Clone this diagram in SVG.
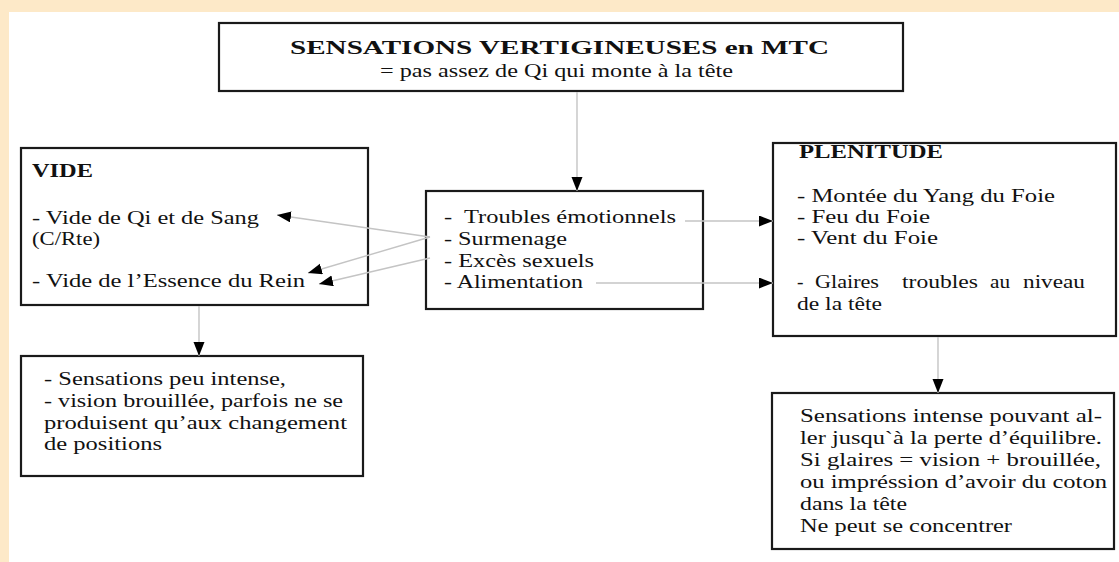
<svg xmlns="http://www.w3.org/2000/svg" width="1119" height="562" viewBox="0 0 1119 562">
  <style>
    .box { fill: #ffffff; stroke: #1a1a1a; stroke-width: 2.2; }
    .t { font-family: "Liberation Serif", "Times New Roman", serif; font-size: 19.5px; fill: #111111; }
    .b { font-weight: bold; }
    .conn { stroke: #c4c4c4; stroke-width: 1.4; fill: none; marker-end: url(#arr); }
  </style>
  <defs>
    <marker id="arr" markerUnits="userSpaceOnUse" markerWidth="15" markerHeight="12" refX="14" refY="5.5" orient="auto">
      <path d="M0,0 L14,5.5 L0,11 Z" fill="#000000"/>
    </marker>
  </defs>
  <rect x="0" y="0" width="1119" height="562" fill="#fde9c8"/>
  <rect x="9" y="12" width="1110" height="550" fill="#ffffff"/>

  <g id="title">
    <rect class="box" x="219" y="23" width="684" height="68"/>
    <text class="t b" x="290" y="54" font-size="25" textLength="539" lengthAdjust="spacingAndGlyphs">SENSATIONS VERTIGINEUSES en MTC</text>
    <text class="t" x="380" y="77" textLength="353" lengthAdjust="spacingAndGlyphs">= pas assez de Qi qui monte à la tête</text>
  </g>

  <g id="vide">
    <rect class="box" x="21" y="148" width="347" height="157"/>
    <text class="t b" x="32" y="177" textLength="61" lengthAdjust="spacingAndGlyphs">VIDE</text>
    <text class="t" x="32" y="224" textLength="227" lengthAdjust="spacingAndGlyphs">- Vide de Qi et de Sang</text>
    <text class="t" x="32" y="245" textLength="68" lengthAdjust="spacingAndGlyphs">(C/Rte)</text>
    <text class="t" x="32" y="287" textLength="273" lengthAdjust="spacingAndGlyphs">- Vide de l’Essence du Rein</text>
  </g>

  <g id="causes">
    <rect class="box" x="426" y="191" width="277" height="118"/>
    <text class="t" x="444" y="223" xml:space="preserve" textLength="232" lengthAdjust="spacingAndGlyphs">-  Troubles émotionnels</text>
    <text class="t" x="444" y="245" textLength="123" lengthAdjust="spacingAndGlyphs">- Surmenage</text>
    <text class="t" x="444" y="267" textLength="150" lengthAdjust="spacingAndGlyphs">- Excès sexuels</text>
    <text class="t" x="444" y="288" textLength="139" lengthAdjust="spacingAndGlyphs">- Alimentation</text>
  </g>

  <g id="plenitude">
    <rect class="box" x="773" y="143" width="343" height="193"/>
    <text class="t b" x="799" y="158" textLength="144" lengthAdjust="spacingAndGlyphs">PLENITUDE</text>
    <text class="t" x="797" y="202" textLength="258" lengthAdjust="spacingAndGlyphs">- Montée du Yang du Foie</text>
    <text class="t" x="797" y="223" textLength="133" lengthAdjust="spacingAndGlyphs">- Feu du Foie</text>
    <text class="t" x="797" y="244" textLength="141" lengthAdjust="spacingAndGlyphs">- Vent du Foie</text>
    <text class="t" y="288"><tspan x="797">-</tspan> <tspan x="815" textLength="64" lengthAdjust="spacingAndGlyphs">Glaires</tspan> <tspan x="902" textLength="76" lengthAdjust="spacingAndGlyphs">troubles</tspan> <tspan x="990" textLength="20" lengthAdjust="spacingAndGlyphs">au</tspan> <tspan x="1023" textLength="62" lengthAdjust="spacingAndGlyphs">niveau</tspan></text>
    <text class="t" x="797" y="310" textLength="85" lengthAdjust="spacingAndGlyphs">de la tête</text>
  </g>

  <g id="vide-effects">
    <rect class="box" x="21" y="356" width="342" height="120"/>
    <text class="t" x="44" y="385" textLength="242" lengthAdjust="spacingAndGlyphs">- Sensations peu intense,</text>
    <text class="t" x="44" y="407" textLength="299" lengthAdjust="spacingAndGlyphs">- vision brouillée, parfois ne se</text>
    <text class="t" x="44" y="429" textLength="303" lengthAdjust="spacingAndGlyphs">produisent qu’aux changement</text>
    <text class="t" x="44" y="450" textLength="118" lengthAdjust="spacingAndGlyphs">de positions</text>
  </g>

  <g id="plenitude-effects">
    <rect class="box" x="772" y="393" width="342" height="156"/>
    <text class="t" x="800" y="422" textLength="302" lengthAdjust="spacingAndGlyphs">Sensations intense pouvant al-</text>
    <text class="t" x="800" y="444" textLength="302" lengthAdjust="spacingAndGlyphs">ler jusqu`à la perte d’équilibre.</text>
    <text class="t" x="800" y="466" textLength="301" lengthAdjust="spacingAndGlyphs">Si glaires = vision + brouillée,</text>
    <text class="t" x="800" y="488" textLength="307" lengthAdjust="spacingAndGlyphs">ou impréssion d’avoir du coton</text>
    <text class="t" x="800" y="510" textLength="107" lengthAdjust="spacingAndGlyphs">dans la tête</text>
    <text class="t" x="800" y="532" textLength="212" lengthAdjust="spacingAndGlyphs">Ne peut se concentrer</text>
  </g>

  <g id="connectors">
    <line class="conn" x1="577" y1="92" x2="577" y2="191"/>
    <line class="conn" x1="430" y1="237" x2="277" y2="215"/>
    <line class="conn" x1="430" y1="237" x2="308" y2="273"/>
    <line class="conn" x1="430" y1="258" x2="319" y2="284"/>
    <line class="conn" x1="685" y1="221" x2="773" y2="221"/>
    <line class="conn" x1="596" y1="283" x2="773" y2="283"/>
    <line class="conn" x1="199" y1="306" x2="199" y2="356"/>
    <line class="conn" x1="938" y1="337" x2="938" y2="393"/>
  </g>
</svg>
